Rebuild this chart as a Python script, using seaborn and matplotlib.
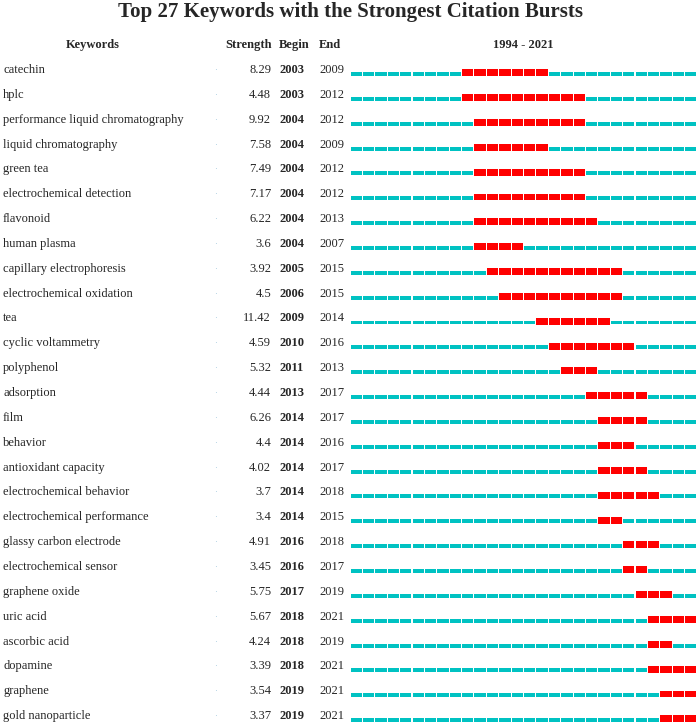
import pandas as pd
import matplotlib.pyplot as plt
import seaborn as sns

keywords = ['catechin', 'hplc', 'performance liquid chromatography', 'liquid chromatography',
            'green tea', 'electrochemical detection', 'flavonoid', 'human plasma',
            'capillary electrophoresis', 'electrochemical oxidation', 'tea', 'cyclic voltammetry',
            'polyphenol', 'adsorption', 'film', 'behavior', 'antioxidant capacity',
            'electrochemical behavior', 'electrochemical performance', 'glassy carbon electrode',
            'electrochemical sensor', 'graphene oxide', 'uric acid', 'ascorbic acid',
            'dopamine', 'graphene', 'gold nanoparticle']
strength = [8.29, 4.48, 9.92, 7.58, 7.49, 7.17, 6.22, 3.6, 3.92, 4.5, 11.42, 4.59, 5.32,
            4.44, 6.26, 4.4, 4.02, 3.7, 3.4, 4.91, 3.45, 5.75, 5.67, 4.24, 3.39, 3.54, 3.37]
begin = [2003, 2003, 2004, 2004, 2004, 2004, 2004, 2004, 2005, 2006, 2009, 2010, 2011,
         2013, 2014, 2014, 2014, 2014, 2014, 2016, 2016, 2017, 2018, 2018, 2018, 2019, 2019]
end = [2009, 2012, 2012, 2009, 2012, 2012, 2013, 2007, 2015, 2015, 2014, 2016, 2013,
       2017, 2017, 2016, 2017, 2018, 2015, 2018, 2017, 2019, 2021, 2019, 2021, 2021, 2021]
first_year, last_year = 1994, 2021

df = pd.DataFrame({'keyword': keywords, 'strength': strength, 'begin': begin, 'end': end})

# one row per keyword-year segment
seg = pd.DataFrame([(i, y, r.begin <= y <= r.end)
                    for i, r in df.iterrows()
                    for y in range(first_year, last_year + 1)],
                   columns=['row', 'year', 'burst'])

sns.set_theme(style='white')
plt.rcParams['font.family'] = ['Liberation Serif', 'DejaVu Serif']

W, H = 699, 725
fig = plt.figure(figsize=(W / 100, H / 100), dpi=100)

# bar area in pixels: x 350..697, rows centred at 74 + 24.85*i
row0, dy = 74, 24.85
top, bot = 60, 723
ax = fig.add_axes([350 / W, 1 - bot / H, (697 - 350) / W, (bot - top) / H])
ax.set_xlim(first_year, last_year + 1)
ax.set_ylim((bot - row0) / dy, (top - row0) / dy)
ax.axis('off')

gap = 0.09
base = seg[~seg.burst]
hot = seg[seg.burst]
ax.barh(base.row, 1 - gap, left=base.year + gap / 2, height=0.16, color='#00c2c2', linewidth=0)
ax.barh(hot.row - 0.05, 1 - gap, left=hot.year + gap / 2, height=0.28, color='#ff0000', linewidth=0)

# text columns, placed in figure pixels
def px(x):
    return x / W

fs = 9
for i, r in df.iterrows():
    y = 1 - (row0 - 4 + dy * i) / H
    fig.text(px(3), y, r.keyword, fontsize=fs, va='center', ha='left')
    fig.text(px(215), y, '\u00b7', fontsize=6, va='center', ha='center', color='#9fc8dc')
    fig.text(px(271), y, str(r.strength), fontsize=fs, va='center', ha='right')
    fig.text(px(279), y, str(r.begin), fontsize=fs, va='center', ha='left', fontweight='bold')
    fig.text(px(319), y, str(r.end), fontsize=fs, va='center', ha='left')

hy = 1 - 45 / H
fig.text(px(93), hy, 'Keywords', fontsize=fs, fontweight='bold', ha='center', va='center')
fig.text(px(272), hy, 'Strength', fontsize=fs, fontweight='bold', ha='right', va='center')
fig.text(px(279), hy, 'Begin', fontsize=fs, fontweight='bold', ha='left', va='center')
fig.text(px(319), hy, 'End', fontsize=fs, fontweight='bold', ha='left', va='center')
fig.text(px(523), hy, f'{first_year} - {last_year}', fontsize=fs, fontweight='bold',
         ha='center', va='center')

fig.text(px(350), 1 - 12 / H, f'Top {len(df)} Keywords with the Strongest Citation Bursts',
         fontsize=15, fontweight='bold', ha='center', va='center')

fig.savefig('out.png', dpi=100)
